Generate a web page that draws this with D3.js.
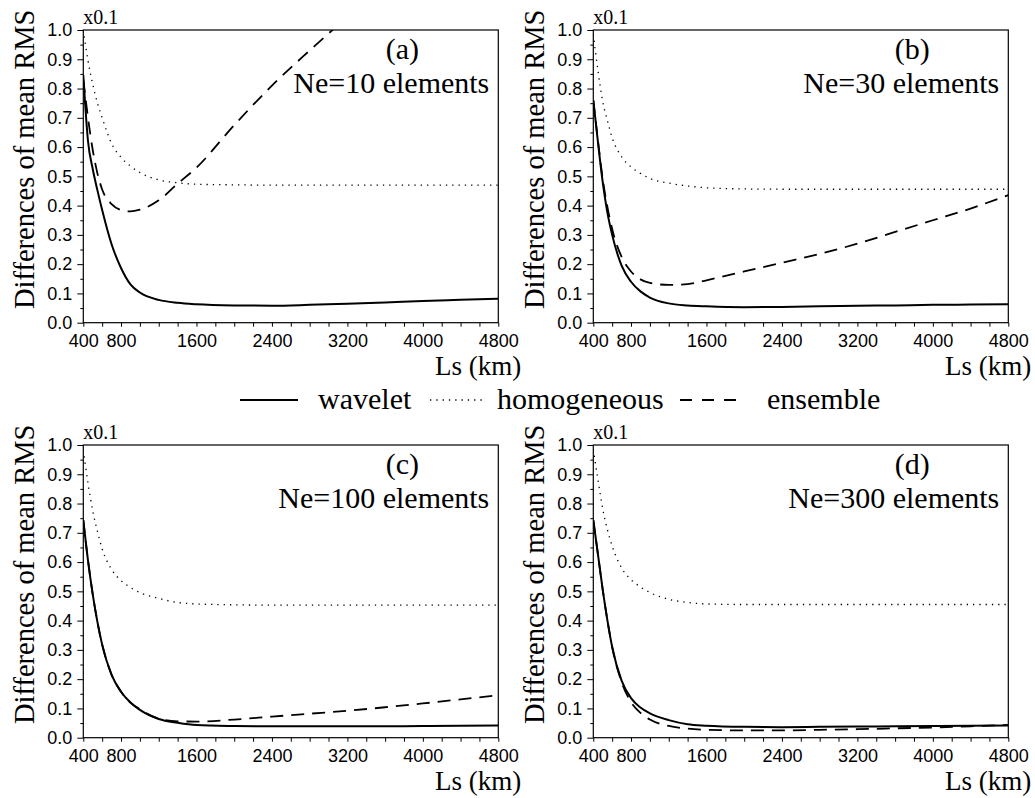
<!DOCTYPE html>
<html>
<head>
<meta charset="utf-8">
<script src="https://cdn.jsdelivr.net/npm/d3@7"></script>
<style>
  body { margin: 0; background: #fff; }
  svg text { fill: #000; }
</style>
</head>
<body>
<svg id="chart" width="1035" height="798"></svg>
<script>
// Length scale Ls (km) at which the curves are sampled
const ls = [400, 450, 500, 550, 600, 700, 800, 900, 1000, 1200, 1400, 1600, 2000, 2400, 2800, 3200, 3600, 4000, 4400, 4800];

// Tick values and labels
const xTicks = d3.range(400, 4801, 200);
const xTickLabels = [400, 800, 1600, 2400, 3200, 4000, 4800];
const yTicks = d3.range(0, 21).map(i => i * 0.05);
const yTickLabels = [0, 0.1, 0.2, 0.3, 0.4, 0.5, 0.6, 0.7, 0.8, 0.9, 1.0];

// Differences of mean RMS (units of 0.1)
// (a) Ne = 10
const waveletA     = [0.846, 0.62, 0.525, 0.452, 0.385, 0.268, 0.187, 0.131, 0.103, 0.078, 0.068, 0.063, 0.059, 0.058, 0.061, 0.065, 0.069, 0.074, 0.078, 0.082];
const homogeneousA = [1.0, 0.895, 0.815, 0.75, 0.70, 0.612, 0.565, 0.535, 0.513, 0.488, 0.478, 0.473, 0.471, 0.470, 0.470, 0.470, 0.470, 0.470, 0.470, 0.470];
const ensembleA    = [0.83, 0.70, 0.59, 0.51, 0.455, 0.405, 0.385, 0.38, 0.386, 0.418, 0.475, 0.53, 0.675, 0.81, 0.93, 1.045];
// (b) Ne = 30
const waveletB     = [0.76, 0.615, 0.48, 0.375, 0.30, 0.195, 0.14, 0.107, 0.086, 0.066, 0.059, 0.056, 0.053, 0.054, 0.056, 0.058, 0.059, 0.061, 0.062, 0.063];
const homogeneousB = [0.985, 0.86, 0.755, 0.69, 0.632, 0.567, 0.532, 0.51, 0.493, 0.477, 0.467, 0.461, 0.457, 0.456, 0.456, 0.456, 0.456, 0.456, 0.456, 0.456];
const ensembleB    = [0.76, 0.62, 0.49, 0.395, 0.32, 0.225, 0.175, 0.148, 0.136, 0.129, 0.132, 0.145, 0.175, 0.205, 0.235, 0.27, 0.31, 0.35, 0.39, 0.436];
// (c) Ne = 100
const waveletC     = [0.743, 0.605, 0.49, 0.395, 0.318, 0.215, 0.157, 0.12, 0.095, 0.064, 0.051, 0.043, 0.040, 0.039, 0.039, 0.039, 0.039, 0.040, 0.041, 0.042];
const homogeneousC = [0.983, 0.87, 0.775, 0.705, 0.645, 0.575, 0.537, 0.513, 0.496, 0.476, 0.462, 0.457, 0.454, 0.453, 0.453, 0.453, 0.453, 0.453, 0.453, 0.453];
const ensembleC    = [0.743, 0.605, 0.49, 0.395, 0.318, 0.215, 0.157, 0.12, 0.097, 0.065, 0.056, 0.055, 0.062, 0.072, 0.082, 0.092, 0.104, 0.117, 0.131, 0.145];
// (d) Ne = 300
const waveletD     = [0.743, 0.625, 0.505, 0.40, 0.31, 0.195, 0.135, 0.103, 0.083, 0.060, 0.046, 0.041, 0.037, 0.036, 0.037, 0.038, 0.039, 0.040, 0.041, 0.042];
const homogeneousD = [0.985, 0.88, 0.782, 0.71, 0.655, 0.58, 0.54, 0.515, 0.496, 0.473, 0.462, 0.457, 0.455, 0.455, 0.455, 0.455, 0.455, 0.455, 0.455, 0.455];
const ensembleD    = [0.743, 0.625, 0.505, 0.40, 0.31, 0.19, 0.122, 0.085, 0.062, 0.040, 0.031, 0.027, 0.025, 0.025, 0.027, 0.029, 0.032, 0.035, 0.039, 0.044];

const panelTags = ["(a)", "(b)", "(c)", "(d)"];
const panelTitles = ["Ne=10 elements", "Ne=30 elements", "Ne=100 elements", "Ne=300 elements"];
const seriesNames = ["wavelet", "homogeneous", "ensemble"];

const panelData = [
  [waveletA, homogeneousA, ensembleA],
  [waveletB, homogeneousB, ensembleB],
  [waveletC, homogeneousC, ensembleC],
  [waveletD, homogeneousD, ensembleD]
];

// Layout
const W = 415, H = 292.7;
const lefts = [83.3, 593.3, 83.3, 593.3];
const tops = [30, 30, 445, 445];

const styles = {
  wavelet:     { width: 2,   dash: null },
  homogeneous: { width: 1.3, dash: "1.3,5" },
  ensemble:    { width: 1.8, dash: "13,8" }
};

const svg = d3.select("#chart");
const serif = "Liberation Serif";
const sans = "Liberation Sans";

const x = d3.scaleLinear().domain([400, 4800]).range([0, W]);
const y = d3.scaleLinear().domain([0, 1]).range([H, 0]);

const line = d3.line()
  .x(d => x(d[0]))
  .y(d => y(d[1]))
  .curve(d3.curveMonotoneX);

const isLabelled = d => yTickLabels.some(t => Math.abs(t - d) < 1e-9);

panelData.forEach((series, p) => {
  const g = svg.append("g").attr("transform", `translate(${lefts[p]},${tops[p]})`);

  const clipId = "clip" + p;
  g.append("clipPath").attr("id", clipId)
    .append("rect").attr("width", W).attr("height", H);

  // Curves
  const plot = g.append("g").attr("clip-path", `url(#${clipId})`);
  series.forEach((vals, s) => {
    const st = styles[seriesNames[s]];
    plot.append("path")
      .datum(vals.map((v, i) => [ls[i], v]))
      .attr("d", line)
      .attr("fill", "none")
      .attr("stroke", "#000")
      .attr("stroke-width", st.width)
      .attr("stroke-dasharray", st.dash);
  });

  // X axis
  const xAxis = g.append("g").attr("transform", `translate(0,${H})`)
    .call(d3.axisBottom(x).tickValues(xTicks).tickSize(4).tickPadding(8)
      .tickFormat(d => xTickLabels.includes(d) ? d : ""));
  xAxis.select(".domain").remove();
  xAxis.selectAll("text").attr("font-family", sans).attr("font-size", 18).attr("fill", "#000");
  xAxis.selectAll("line").attr("stroke", "#000");

  // Y axis
  const yAxis = g.append("g")
    .call(d3.axisLeft(y).tickValues(yTicks).tickSize(6).tickPadding(5)
      .tickFormat(d => isLabelled(d) ? d3.format(".1f")(d) : ""));
  yAxis.select(".domain").remove();
  yAxis.selectAll(".tick line")
    .attr("stroke", "#000")
    .attr("x2", d => isLabelled(d) ? -6 : -3);
  yAxis.selectAll("text").attr("font-family", sans).attr("font-size", 18).attr("fill", "#000");

  // Frame
  g.append("rect").attr("width", W).attr("height", H)
    .attr("fill", "none").attr("stroke", "#000").attr("stroke-width", 1.2);

  // Scale factor note
  g.append("text").attr("x", 0).attr("y", -6)
    .attr("font-family", serif).attr("font-size", 20).text("x0.1");

  // Y-axis title
  g.append("text")
    .attr("transform", `translate(-49,${H / 2 - 17}) rotate(-90)`)
    .attr("text-anchor", "middle")
    .attr("font-family", serif).attr("font-size", 28.5)
    .text("Differences of mean RMS");

  // X-axis title
  g.append("text").attr("x", W + 23).attr("y", H + 52)
    .attr("text-anchor", "end")
    .attr("font-family", serif).attr("font-size", 27)
    .text("Ls (km)");

  // Panel annotations
  g.append("text").attr("x", 319).attr("y", 29)
    .attr("text-anchor", "middle")
    .attr("font-family", serif).attr("font-size", 30)
    .text(panelTags[p]);
  g.append("text").attr("x", W - 9).attr("y", 63)
    .attr("text-anchor", "end")
    .attr("font-family", serif).attr("font-size", 30)
    .text(panelTitles[p]);
});

// Legend
const legendItems = [
  { name: "wavelet", x0: 240, x1: 298, tx: 318 },
  { name: "homogeneous", x0: 430, x1: 484, tx: 497 },
  { name: "ensemble", x0: 680, x1: 737, tx: 767 }
];
const legendY = 400;
const legend = svg.append("g");
legendItems.forEach(item => {
  const st = styles[item.name];
  legend.append("line")
    .attr("x1", item.x0).attr("x2", item.x1)
    .attr("y1", legendY).attr("y2", legendY)
    .attr("stroke", "#000")
    .attr("stroke-width", st.width)
    .attr("stroke-dasharray", item.name === "ensemble" ? "12,10" : st.dash);
  legend.append("text")
    .attr("x", item.tx).attr("y", legendY + 9)
    .attr("font-family", serif).attr("font-size", 30)
    .text(item.name);
});
</script>
</body>
</html>
